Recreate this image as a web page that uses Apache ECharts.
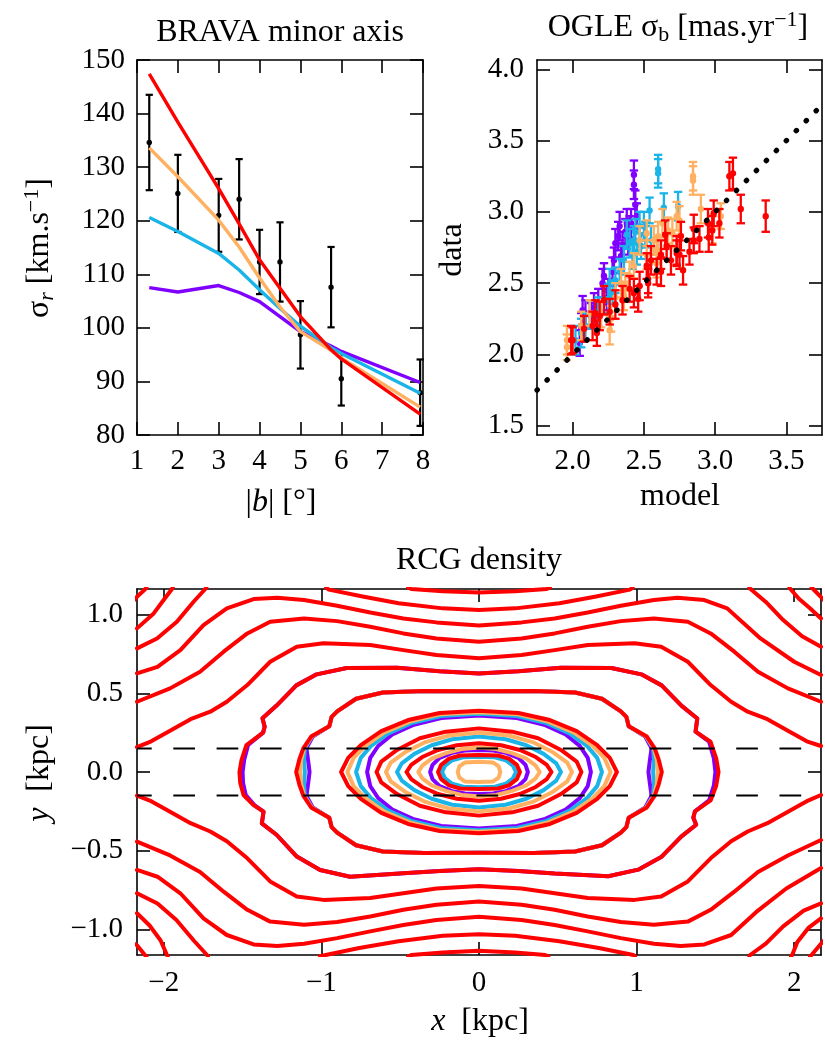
<!DOCTYPE html>
<html>
<head>
<meta charset="utf-8">
<script src="https://cdn.jsdelivr.net/npm/echarts@6/dist/echarts.min.js"></script>
<style>
html,body{margin:0;padding:0;background:#fff;}
#chart{width:825px;height:1045px;}
</style>
</head>
<body>
<div id="chart"></div>
<script>
// ---------- BRAVA minor axis: velocity dispersion vs |b| ----------
const bravaAbsB = [1.3, 2, 3, 3.5, 4, 4.5, 5, 5.75, 6, 7.93];
const bravaSigma = [134.6, 125.1, 121.0, 124.0, 112.3, 112.3, 98.7, 107.6, 90.5, 87.9];
const bravaSigmaErr = [8.9, 7.2, 6.8, 7.5, 6.0, 7.4, 6.3, 7.5, 5.0, 6.2];
const modelAbsB = [1.3, 2, 3, 3.5, 4, 4.5, 5, 5.75, 6, 7.93];
const modelPurple = [107.5, 106.7, 107.9, 106.6, 104.9, 102.1, 99.3, 96.6, 95.6, 89.8];
const modelCyan = [120.6, 118.0, 113.9, 110.8, 107.1, 103.6, 100.3, 96.3, 95.2, 87.8];
const modelOrange = [133.6, 128.2, 120.1, 115.1, 109.3, 103.9, 99.3, 95.8, 94.4, 85.2];
const modelRed = [147.4, 138.4, 126.0, 119.4, 112.7, 107.4, 102.1, 95.9, 94.2, 83.9];

// ---------- OGLE proper-motion dispersion: model vs data ----------
const oglePurpleModel = [2.43, 2.43, 2.44, 2.45, 2.41, 2.32, 2.37, 2.39, 2.34, 2.35, 2.29, 2.21, 2.25, 2.24, 2.28, 2.13, 2.18, 2.07, 2.09, 2.05, 2.06, 2.33, 2.40, 2.30, 2.38, 2.22, 2.15];
const oglePurpleData  = [3.26, 3.19, 3.05, 2.97, 2.92, 2.83, 2.86, 2.80, 2.69, 2.76, 2.66, 2.50, 2.44, 2.40, 2.58, 2.27, 2.36, 2.31, 2.29, 2.08, 2.19, 2.90, 2.88, 2.78, 2.92, 2.55, 2.33];
const oglePurpleErr   = [0.10, 0.10, 0.10, 0.09, 0.10, 0.10, 0.09, 0.10, 0.09, 0.10, 0.09, 0.10, 0.09, 0.09, 0.10, 0.09, 0.10, 0.10, 0.09, 0.09, 0.10, 0.10, 0.09, 0.10, 0.10, 0.09, 0.10];
const ogleCyanModel = [2.60, 2.60, 2.64, 2.54, 2.74, 2.47, 2.51, 2.40, 2.45, 2.43, 2.48, 2.36, 2.33, 2.26, 2.28, 2.25, 2.12, 2.09, 2.06, 2.02, 2.38, 2.44, 2.50, 2.42, 2.30, 2.18, 2.55];
const ogleCyanData  = [3.30, 3.27, 3.03, 3.01, 3.04, 2.90, 2.84, 2.78, 2.72, 2.80, 2.76, 2.66, 2.58, 2.50, 2.43, 2.39, 2.28, 2.20, 2.15, 2.10, 2.84, 2.86, 2.90, 2.70, 2.52, 2.30, 2.80];
const ogleCyanErr   = [0.10, 0.10, 0.10, 0.09, 0.10, 0.10, 0.09, 0.10, 0.09, 0.10, 0.09, 0.10, 0.09, 0.10, 0.09, 0.10, 0.10, 0.09, 0.10, 0.10, 0.10, 0.09, 0.10, 0.10, 0.09, 0.10, 0.10];
const ogleOrangeModel = [2.845, 2.845, 2.90, 2.73, 3.04, 2.75, 2.67, 2.60, 2.66, 2.57, 2.59, 2.59, 2.52, 2.43, 2.34, 2.37, 2.36, 2.27, 2.26, 2.12, 2.06, 1.96, 1.96, 2.98, 2.47, 2.52, 2.40, 2.30, 2.20, 2.63, 2.70];
const ogleOrangeData  = [3.25, 3.22, 3.02, 2.97, 2.97, 2.94, 2.87, 2.83, 2.76, 2.80, 2.73, 2.64, 2.70, 2.62, 2.50, 2.48, 2.41, 2.25, 2.17, 2.29, 2.20, 2.10, 2.05, 2.88, 2.80, 2.85, 2.55, 2.40, 2.28, 2.92, 2.85];
const ogleOrangeErr   = [0.10, 0.10, 0.10, 0.10, 0.09, 0.10, 0.09, 0.10, 0.09, 0.10, 0.09, 0.10, 0.10, 0.09, 0.10, 0.09, 0.10, 0.09, 0.10, 0.09, 0.10, 0.10, 0.09, 0.10, 0.10, 0.09, 0.10, 0.10, 0.09, 0.10, 0.10];
const ogleRedModel = [3.10, 3.125, 3.18, 3.355, 3.03, 2.99, 2.98, 2.955, 2.89, 2.85, 2.82, 2.775, 2.75, 2.73, 2.69, 2.66, 2.62, 2.65, 2.59, 2.53, 2.52, 2.53, 2.47, 2.46, 2.43, 2.26, 2.19, 2.16, 2.14, 2.17, 1.99, 2.00, 2.76, 2.73, 2.55, 2.40, 2.35, 2.30, 2.08, 2.22, 2.62, 2.85, 2.95];
const ogleRedData  = [3.25, 3.27, 3.02, 2.97, 2.92, 2.99, 2.87, 2.82, 2.81, 2.88, 2.72, 2.59, 2.70, 2.71, 2.66, 2.76, 2.58, 2.84, 2.58, 2.53, 2.62, 2.50, 2.48, 2.39, 2.43, 2.30, 2.27, 2.29, 2.20, 2.15, 2.10, 2.10, 2.83, 2.73, 2.66, 2.46, 2.38, 2.35, 2.18, 2.38, 2.70, 2.80, 2.92];
const ogleRedErr   = [0.10, 0.11, 0.10, 0.11, 0.10, 0.09, 0.10, 0.10, 0.09, 0.10, 0.09, 0.10, 0.10, 0.09, 0.10, 0.09, 0.10, 0.10, 0.09, 0.10, 0.09, 0.10, 0.10, 0.09, 0.10, 0.09, 0.10, 0.09, 0.10, 0.09, 0.10, 0.09, 0.10, 0.10, 0.10, 0.09, 0.10, 0.10, 0.09, 0.10, 0.10, 0.09, 0.10];
const oneToOne = [[1.75, 1.75], [3.75, 3.75]];

// ---------- RCG density contours (x, y in kpc) ----------
// open red contours crossing the panel
const rcgArc0Upper = [[-0.45,1.17],[-0.43,1.162],[-0.23,1.148],[0,1.14],[0.23,1.148],[0.43,1.162],[0.45,1.17]];
const rcgArc0Lower = [[-0.45,-1.17],[-0.43,-1.162],[-0.23,-1.146],[0,-1.135],[0.23,-1.146],[0.42,-1.162],[0.44,-1.17]];
const rcgArc1Upper = [[-0.97,1.17],[-0.953,1.158],[-0.73,1.113],[-0.51,1.071],[-0.23,1.039],[0,1.029],[0.23,1.039],[0.51,1.071],[0.735,1.113],[0.957,1.158],[0.975,1.17]];
const rcgArc1Lower = [[-1.01,-1.17],[-0.998,-1.162],[-0.76,-1.118],[-0.51,-1.075],[-0.23,-1.04],[0,-1.03],[0.23,-1.04],[0.51,-1.075],[0.76,-1.118],[0.98,-1.162],[0.99,-1.17]];
const rcgArc2Upper = [[-2.17,0.626],[-2.04,0.668],[-1.895,0.774],[-1.748,0.933],[-1.60,1.039],[-1.43,1.098],[-1.28,1.107],[-1.11,1.092],[-0.90,1.056],[-0.69,1.013],[-0.48,0.975],[-0.27,0.950],[0,0.930],[0.27,0.950],[0.48,0.975],[0.69,1.013],[0.90,1.056],[1.11,1.092],[1.26,1.107],[1.43,1.092],[1.575,1.039],[1.786,0.848],[2.0,0.70],[2.17,0.616]];
const rcgArc2Lower = [[-2.17,-0.622],[-2.04,-0.665],[-1.895,-0.77],[-1.748,-0.93],[-1.60,-1.035],[-1.43,-1.095],[-1.28,-1.105],[-1.11,-1.09],[-0.90,-1.055],[-0.69,-1.012],[-0.48,-0.972],[-0.27,-0.94],[0,-0.919],[0.27,-0.94],[0.48,-0.972],[0.69,-1.012],[0.90,-1.055],[1.11,-1.09],[1.28,-1.105],[1.43,-1.095],[1.60,-1.035],[1.77,-0.88],[1.95,-0.74],[2.17,-0.61]];
const rcgArc3Upper = [[-2.17,0.446],[-1.96,0.531],[-1.77,0.637],[-1.62,0.764],[-1.47,0.880],[-1.325,0.954],[-1.11,0.975],[-0.90,0.958],[-0.69,0.922],[-0.48,0.880],[-0.27,0.848],[0,0.827],[0.27,0.848],[0.48,0.880],[0.69,0.922],[0.90,0.958],[1.11,0.975],[1.325,0.954],[1.47,0.880],[1.62,0.764],[1.77,0.637],[1.96,0.531],[2.17,0.446]];
const rcgArc3Lower = [[-2.17,-0.442],[-1.96,-0.53],[-1.77,-0.635],[-1.62,-0.76],[-1.47,-0.875],[-1.325,-0.95],[-1.11,-0.97],[-0.90,-0.953],[-0.69,-0.917],[-0.48,-0.875],[-0.27,-0.843],[0,-0.823],[0.27,-0.843],[0.48,-0.875],[0.69,-0.917],[0.90,-0.953],[1.11,-0.97],[1.325,-0.95],[1.47,-0.875],[1.62,-0.76],[1.77,-0.635],[1.96,-0.53],[2.17,-0.432]];
const rcgArc4Upper = [[-2.17,0.158],[-2.08,0.195],[-2.00,0.24],[-1.83,0.335],[-1.705,0.383],[-1.60,0.446],[-1.47,0.552],[-1.325,0.700],[-1.156,0.795],[-0.987,0.817],[-0.69,0.806],[-0.48,0.774],[-0.27,0.743],[0,0.722],[0.27,0.743],[0.48,0.774],[0.69,0.806],[0.987,0.817],[1.156,0.795],[1.325,0.700],[1.47,0.552],[1.60,0.446],[1.705,0.383],[1.83,0.335],[2.00,0.24],[2.08,0.195],[2.17,0.165]];
const rcgArc4Lower = [[-2.17,-0.15],[-2.08,-0.185],[-2.00,-0.23],[-1.83,-0.325],[-1.705,-0.378],[-1.60,-0.44],[-1.47,-0.548],[-1.325,-0.695],[-1.156,-0.79],[-0.987,-0.812],[-0.69,-0.80],[-0.48,-0.77],[-0.27,-0.74],[0,-0.724],[0.27,-0.74],[0.48,-0.77],[0.69,-0.80],[0.987,-0.812],[1.156,-0.79],[1.325,-0.695],[1.47,-0.548],[1.60,-0.44],[1.705,-0.378],[1.83,-0.325],[2.00,-0.23],[2.08,-0.185],[2.17,-0.146]];
// corner contours
const rcgCornerUL0 = [[-2.19,1.09],[-2.17,1.113],[-2.117,1.162],[-2.11,1.17]];
const rcgCornerUL1 = [[-2.17,0.912],[-2.064,1.007],[-2.001,1.092],[-1.948,1.162],[-1.943,1.17]];
const rcgCornerUL2 = [[-2.17,0.785],[-2.043,0.848],[-1.917,0.954],[-1.811,1.081],[-1.737,1.162],[-1.73,1.17]];
const rcgCornerUR0 = [[2.19,1.09],[2.17,1.11],[2.12,1.162],[2.11,1.17]];
const rcgCornerUR1 = [[2.17,0.975],[2.10,1.04],[2.03,1.10],[1.976,1.162],[1.97,1.17]];
const rcgCornerUR2 = [[2.17,0.795],[2.05,0.862],[1.93,0.965],[1.82,1.08],[1.723,1.162],[1.715,1.17]];
const rcgCornerLL0 = [[-2.19,-1.09],[-2.17,-1.10],[-2.12,-1.162],[-2.11,-1.17]];
const rcgCornerLL1 = [[-2.17,-0.897],[-2.09,-0.975],[-2.02,-1.07],[-1.98,-1.162],[-1.975,-1.17]];
const rcgCornerLL2 = [[-2.17,-0.77],[-2.04,-0.835],[-1.92,-0.94],[-1.81,-1.07],[-1.726,-1.162],[-1.72,-1.17]];
const rcgCornerLR0 = [[2.19,-1.07],[2.17,-1.09],[2.11,-1.162],[2.10,-1.17]];
const rcgCornerLR1 = [[2.17,-0.93],[2.09,-0.99],[2.02,-1.08],[1.987,-1.162],[1.98,-1.17]];
const rcgCornerLR2 = [[2.17,-0.834],[2.06,-0.88],[1.93,-0.98],[1.82,-1.09],[1.72,-1.162],[1.715,-1.17]];
// closed contours
const ringRedF1 = [[-1.52,0],[-1.507,0.076],[-1.476,0.171],[-1.37,0.25],[-1.36,0.288],[-1.374,0.341],[-1.286,0.42],[-1.159,0.55],[-1.03,0.62],[-0.84,0.66],[-0.52,0.662],[-0.25,0.64],[0,0.626],[0.25,0.64],[0.52,0.662],[0.84,0.66],[1.03,0.62],[1.159,0.55],[1.286,0.42],[1.385,0.34],[1.374,0.256],[1.469,0.192],[1.505,0.087],[1.52,0],[1.505,-0.087],[1.47,-0.18],[1.37,-0.25],[1.36,-0.29],[1.378,-0.335],[1.283,-0.41],[1.156,-0.54],[1.01,-0.62],[0.82,-0.662],[0.48,-0.645],[0.25,-0.628],[0,-0.618],[-0.25,-0.628],[-0.48,-0.643],[-0.818,-0.665],[-1.008,-0.622],[-1.156,-0.537],[-1.283,-0.40],[-1.378,-0.326],[-1.367,-0.252],[-1.431,-0.21],[-1.494,-0.146],[-1.515,-0.07],[-1.52,0]];
const ringPurpleF1 = [[-1.50,0],[-1.49,0.076],[-1.465,0.171],[-1.37,0.25],[-1.36,0.288],[-1.374,0.341],[-1.286,0.42],[-1.159,0.55],[-1.03,0.62],[-0.84,0.66],[-0.52,0.662],[-0.25,0.64],[0,0.626],[0.25,0.64],[0.52,0.662],[0.84,0.66],[1.03,0.62],[1.159,0.55],[1.286,0.42],[1.385,0.34],[1.374,0.256],[1.46,0.192],[1.49,0.087],[1.50,0],[1.49,-0.087],[1.46,-0.18],[1.37,-0.25],[1.36,-0.29],[1.378,-0.335],[1.283,-0.41],[1.156,-0.54],[1.01,-0.62],[0.82,-0.662],[0.48,-0.645],[0.25,-0.628],[0,-0.618],[-0.25,-0.628],[-0.48,-0.643],[-0.818,-0.665],[-1.008,-0.622],[-1.156,-0.537],[-1.283,-0.40],[-1.378,-0.326],[-1.367,-0.252],[-1.425,-0.21],[-1.48,-0.146],[-1.497,-0.07],[-1.50,0]];
const ringRedF2 = [[-1.16,0],[-1.14,0.08],[-1.115,0.15],[-1.065,0.225],[-0.95,0.29],[-0.935,0.35],[-0.90,0.385],[-0.78,0.465],[-0.61,0.505],[-0.35,0.515],[0,0.512],[0.35,0.515],[0.61,0.505],[0.78,0.465],[0.90,0.385],[0.935,0.35],[0.95,0.29],[1.065,0.225],[1.115,0.15],[1.14,0.08],[1.16,0],[1.14,-0.08],[1.115,-0.15],[1.065,-0.225],[0.95,-0.29],[0.935,-0.35],[0.90,-0.385],[0.78,-0.465],[0.61,-0.505],[0.35,-0.515],[0,-0.512],[-0.35,-0.515],[-0.61,-0.505],[-0.78,-0.465],[-0.90,-0.385],[-0.935,-0.35],[-0.95,-0.29],[-1.065,-0.225],[-1.115,-0.15],[-1.14,-0.08],[-1.16,0]];
const ringOrangeF2 = [[-1.135,0],[-1.128,0.08],[-1.11,0.15],[-1.062,0.225],[-0.95,0.29],[-0.935,0.35],[-0.90,0.385],[-0.78,0.465],[-0.61,0.505],[-0.35,0.515],[0,0.512],[0.35,0.515],[0.61,0.505],[0.78,0.465],[0.90,0.385],[0.935,0.35],[0.95,0.29],[1.062,0.225],[1.11,0.15],[1.128,0.08],[1.135,0],[1.128,-0.08],[1.11,-0.15],[1.062,-0.225],[0.95,-0.29],[0.935,-0.35],[0.90,-0.385],[0.78,-0.465],[0.61,-0.505],[0.35,-0.515],[0,-0.512],[-0.35,-0.515],[-0.61,-0.505],[-0.78,-0.465],[-0.90,-0.385],[-0.935,-0.35],[-0.95,-0.29],[-1.062,-0.225],[-1.11,-0.15],[-1.128,-0.08],[-1.135,0]];
const ringCyanF2 = [[-1.105,0],[-1.11,0.08],[-1.105,0.15],[-1.06,0.225],[-0.95,0.29],[-0.935,0.35],[-0.90,0.385],[-0.78,0.465],[-0.61,0.505],[-0.35,0.515],[0,0.512],[0.35,0.515],[0.61,0.505],[0.78,0.465],[0.90,0.385],[0.935,0.35],[0.95,0.29],[1.06,0.225],[1.105,0.15],[1.11,0.08],[1.105,0],[1.11,-0.08],[1.105,-0.15],[1.06,-0.225],[0.95,-0.29],[0.935,-0.35],[0.90,-0.385],[0.78,-0.465],[0.61,-0.505],[0.35,-0.515],[0,-0.512],[-0.35,-0.515],[-0.61,-0.505],[-0.78,-0.465],[-0.90,-0.385],[-0.935,-0.35],[-0.95,-0.29],[-1.06,-0.225],[-1.105,-0.15],[-1.11,-0.08],[-1.105,0]];
const ringPurpleF2 = [[-1.075,0],[-1.085,0.08],[-1.095,0.15],[-1.055,0.225],[-0.95,0.29],[-0.935,0.35],[-0.90,0.385],[-0.78,0.465],[-0.61,0.505],[-0.35,0.515],[0,0.512],[0.35,0.515],[0.61,0.505],[0.78,0.465],[0.90,0.385],[0.935,0.35],[0.95,0.29],[1.055,0.225],[1.095,0.15],[1.085,0.08],[1.075,0],[1.085,-0.08],[1.095,-0.15],[1.055,-0.225],[0.95,-0.29],[0.935,-0.35],[0.90,-0.385],[0.78,-0.465],[0.61,-0.505],[0.35,-0.515],[0,-0.512],[-0.35,-0.515],[-0.61,-0.505],[-0.78,-0.465],[-0.90,-0.385],[-0.935,-0.35],[-0.95,-0.29],[-1.055,-0.225],[-1.095,-0.15],[-1.085,-0.08],[-1.075,0]];
const ringRedG = [[-0.875,0],[-0.83,0.09],[-0.75,0.17],[-0.62,0.26],[-0.45,0.33],[-0.25,0.375],[0,0.389],[0.25,0.375],[0.45,0.33],[0.62,0.26],[0.75,0.17],[0.83,0.09],[0.875,0],[0.83,-0.09],[0.75,-0.17],[0.62,-0.26],[0.45,-0.33],[0.25,-0.375],[0,-0.389],[-0.25,-0.375],[-0.45,-0.33],[-0.62,-0.26],[-0.75,-0.17],[-0.83,-0.09],[-0.875,0]];
const ringOrangeG = [[-0.835,0],[-0.795,0.09],[-0.72,0.168],[-0.60,0.252],[-0.44,0.32],[-0.25,0.366],[0,0.380],[0.25,0.366],[0.44,0.32],[0.60,0.252],[0.72,0.168],[0.795,0.09],[0.835,0],[0.795,-0.09],[0.72,-0.168],[0.60,-0.252],[0.44,-0.32],[0.25,-0.366],[0,-0.380],[-0.25,-0.366],[-0.44,-0.32],[-0.60,-0.252],[-0.72,-0.168],[-0.795,-0.09],[-0.835,0]];
const ringCyanG = [[-0.78,0],[-0.75,0.09],[-0.685,0.166],[-0.575,0.245],[-0.43,0.31],[-0.24,0.356],[0,0.370],[0.24,0.356],[0.43,0.31],[0.575,0.245],[0.685,0.166],[0.75,0.09],[0.78,0],[0.75,-0.09],[0.685,-0.166],[0.575,-0.245],[0.43,-0.31],[0.24,-0.356],[0,-0.370],[-0.24,-0.356],[-0.43,-0.31],[-0.575,-0.245],[-0.685,-0.166],[-0.75,-0.09],[-0.78,0]];
const ringPurpleG = [[-0.71,0],[-0.69,0.09],[-0.64,0.165],[-0.55,0.238],[-0.42,0.298],[-0.24,0.343],[0,0.358],[0.24,0.343],[0.42,0.298],[0.55,0.238],[0.64,0.165],[0.69,0.09],[0.71,0],[0.69,-0.09],[0.64,-0.165],[0.55,-0.238],[0.42,-0.298],[0.24,-0.343],[0,-0.358],[-0.24,-0.343],[-0.42,-0.298],[-0.55,-0.238],[-0.64,-0.165],[-0.69,-0.09],[-0.71,0]];
const ringRedL2 = [[-0.65,0],[-0.62,0.066],[-0.52,0.14],[-0.375,0.214],[-0.21,0.256],[0,0.277],[0.21,0.256],[0.375,0.214],[0.52,0.14],[0.62,0.066],[0.65,0],[0.62,-0.066],[0.52,-0.14],[0.375,-0.214],[0.21,-0.256],[0,-0.277],[-0.21,-0.256],[-0.375,-0.214],[-0.52,-0.14],[-0.62,-0.066],[-0.65,0]];
const ringOrangeL2 = [[-0.59,0],[-0.56,0.06],[-0.47,0.125],[-0.34,0.19],[-0.19,0.232],[0,0.25],[0.19,0.232],[0.34,0.19],[0.47,0.125],[0.56,0.06],[0.59,0],[0.56,-0.06],[0.47,-0.125],[0.34,-0.19],[0.19,-0.232],[0,-0.25],[-0.19,-0.232],[-0.34,-0.19],[-0.47,-0.125],[-0.56,-0.06],[-0.59,0]];
const ringCyanL2 = [[-0.52,0],[-0.49,0.055],[-0.41,0.115],[-0.30,0.17],[-0.17,0.208],[0,0.225],[0.17,0.208],[0.30,0.17],[0.41,0.115],[0.49,0.055],[0.52,0],[0.49,-0.055],[0.41,-0.115],[0.30,-0.17],[0.17,-0.208],[0,-0.225],[-0.17,-0.208],[-0.30,-0.17],[-0.41,-0.115],[-0.49,-0.055],[-0.52,0]];
const ringRedL3 = [[-0.46,0],[-0.43,0.045],[-0.36,0.095],[-0.26,0.14],[-0.14,0.17],[0,0.182],[0.14,0.17],[0.26,0.14],[0.36,0.095],[0.43,0.045],[0.46,0],[0.43,-0.045],[0.36,-0.095],[0.26,-0.14],[0.14,-0.17],[0,-0.182],[-0.14,-0.17],[-0.26,-0.14],[-0.36,-0.095],[-0.43,-0.045],[-0.46,0]];
const ringOrangeL3 = [[-0.385,0],[-0.36,0.04],[-0.30,0.085],[-0.21,0.12],[-0.11,0.146],[0,0.156],[0.11,0.146],[0.21,0.12],[0.30,0.085],[0.36,0.04],[0.385,0],[0.36,-0.04],[0.30,-0.085],[0.21,-0.12],[0.11,-0.146],[0,-0.156],[-0.11,-0.146],[-0.21,-0.12],[-0.30,-0.085],[-0.36,-0.04],[-0.385,0]];
const ringPurpleL2 = [[-0.31,0],[-0.295,0.045],[-0.25,0.09],[-0.17,0.122],[-0.09,0.136],[0,0.14],[0.09,0.136],[0.17,0.122],[0.25,0.09],[0.295,0.045],[0.31,0],[0.295,-0.045],[0.25,-0.09],[0.17,-0.122],[0.09,-0.136],[0,-0.14],[-0.09,-0.136],[-0.17,-0.122],[-0.25,-0.09],[-0.295,-0.045],[-0.31,0]];
const ringRedL4 = [[-0.26,0],[-0.24,0.045],[-0.19,0.085],[-0.12,0.105],[0,0.108],[0.12,0.105],[0.19,0.085],[0.24,0.045],[0.26,0],[0.24,-0.045],[0.19,-0.085],[0.12,-0.105],[0,-0.108],[-0.12,-0.105],[-0.19,-0.085],[-0.24,-0.045],[-0.26,0]];
const ringCyanL3 = [[-0.235,0],[-0.215,0.04],[-0.17,0.075],[-0.10,0.093],[0,0.097],[0.10,0.093],[0.17,0.075],[0.215,0.04],[0.235,0],[0.215,-0.04],[0.17,-0.075],[0.10,-0.093],[0,-0.097],[-0.10,-0.093],[-0.17,-0.075],[-0.215,-0.04],[-0.235,0]];
const ringOrangeL4 = [[-0.135,0],[-0.125,0.035],[-0.09,0.06],[0,0.065],[0.09,0.06],[0.125,0.035],[0.135,0],[0.125,-0.035],[0.09,-0.06],[0,-0.063],[-0.09,-0.06],[-0.125,-0.035],[-0.135,0]];
// slice limits |y| = 0.15 kpc
const sliceUpper = [[-2.17, 0.15], [2.17, 0.15]];
const sliceLower = [[-2.17, -0.15], [2.17, -0.15]];

// tick values
const ogleTicksX = [2.0, 2.5, 3.0, 3.5];
const ogleTicksY = [1.5, 2.0, 2.5, 3.0, 3.5, 4.0];
const rcgTicksX = [-2, -1, 0, 1, 2];
const rcgTicksY = [-1.0, -0.5, 0.0, 0.5, 1.0];

// ---------- styling ----------
const FONT = 'Liberation Serif';
const FS = 29;      // tick labels
const FT = 32;      // titles and axis names
const PURPLE = '#8000ff', CYAN = '#1ab4e8', ORANGE = '#ffb060', RED = '#ff0000';
const minusSign = s => String(s).replace('-', '\u2212');

function axis(grid, pos, min, max, opts) {
  const o = opts || {};
  const labelled = pos === 'bottom' || pos === 'left';
  const a = {
    type: 'value', gridIndex: grid, position: pos, min, max,
    axisLine: { show: true, onZero: false, lineStyle: { color: '#000', width: 1.6 } },
    axisTick: { show: true, inside: true, length: 13, lineStyle: { color: '#000', width: 1.6 } },
    splitLine: { show: false },
    axisLabel: {
      show: labelled, color: '#000', fontFamily: FONT, fontSize: FS,
      margin: o.margin || 12, formatter: o.formatter
    }
  };
  if (o.interval) a.interval = o.interval;
  if (o.ticks) {
    a.axisTick.customValues = o.ticks;
    a.axisLabel.customValues = o.ticks;
  }
  return a;
}

function errorBars(xi, yi, xs, ys, es, color, cap, r, lw) {
  return {
    type: 'custom', xAxisIndex: xi, yAxisIndex: yi, silent: true, animation: false,
    data: xs.map((x, i) => [x, ys[i], es[i]]),
    encode: { x: 0, y: 1 },
    renderItem: (params, api) => {
      const x = api.value(0), y = api.value(1), e = api.value(2);
      const hi = api.coord([x, y + e]), lo = api.coord([x, y - e]), c = api.coord([x, y]);
      const st = { stroke: color, lineWidth: lw };
      return {
        type: 'group', children: [
          { type: 'line', shape: { x1: hi[0], y1: hi[1], x2: lo[0], y2: lo[1] }, style: st },
          { type: 'line', shape: { x1: hi[0] - cap, y1: hi[1], x2: hi[0] + cap, y2: hi[1] }, style: st },
          { type: 'line', shape: { x1: lo[0] - cap, y1: lo[1], x2: lo[0] + cap, y2: lo[1] }, style: st },
          { type: 'circle', shape: { cx: c[0], cy: c[1], r }, style: { fill: color } }
        ]
      };
    }
  };
}

function modelLine(xs, ys, color) {
  return {
    type: 'line', xAxisIndex: 0, yAxisIndex: 0, symbol: 'none', silent: true, animation: false,
    data: xs.map((x, i) => [x, ys[i]]),
    lineStyle: { color, width: 3.4, join: 'round' }
  };
}

function contour(path, color) {
  return {
    type: 'line', xAxisIndex: 4, yAxisIndex: 4, symbol: 'none', silent: true, animation: false,
    clip: true, data: path,
    lineStyle: { color, width: 4, join: 'round', cap: 'round' }
  };
}

const redOpen = [rcgArc0Upper, rcgArc0Lower, rcgArc1Upper, rcgArc1Lower, rcgArc2Upper, rcgArc2Lower,
  rcgArc3Upper, rcgArc3Lower, rcgArc4Upper, rcgArc4Lower,
  rcgCornerUL0, rcgCornerUL1, rcgCornerUL2, rcgCornerUR0, rcgCornerUR1, rcgCornerUR2,
  rcgCornerLL0, rcgCornerLL1, rcgCornerLL2, rcgCornerLR0, rcgCornerLR1, rcgCornerLR2];

const series = [
  // BRAVA
  errorBars(0, 0, bravaAbsB, bravaSigma, bravaSigmaErr, '#000', 3.6, 2.7, 2.2),
  modelLine(modelAbsB, modelPurple, PURPLE),
  modelLine(modelAbsB, modelCyan, CYAN),
  modelLine(modelAbsB, modelOrange, ORANGE),
  modelLine(modelAbsB, modelRed, RED),
  // OGLE
  errorBars(2, 2, oglePurpleModel, oglePurpleData, oglePurpleErr, PURPLE, 4.2, 3.2, 2.3),
  errorBars(2, 2, ogleCyanModel, ogleCyanData, ogleCyanErr, CYAN, 4.2, 3.2, 2.3),
  errorBars(2, 2, ogleOrangeModel, ogleOrangeData, ogleOrangeErr, ORANGE, 4.2, 3.2, 2.3),
  errorBars(2, 2, ogleRedModel, ogleRedData, ogleRedErr, RED, 4.2, 3.2, 2.3),
  {
    type: 'line', xAxisIndex: 2, yAxisIndex: 2, symbol: 'none', silent: true, animation: false,
    data: oneToOne,
    lineStyle: { color: '#000', width: 5.2, type: [0.5, 13.6], cap: 'round' }
  },
  // RCG density
  contour(ringPurpleF1, PURPLE), contour(ringPurpleF2, PURPLE), contour(ringPurpleG, PURPLE), contour(ringPurpleL2, PURPLE),
  contour(ringCyanF2, CYAN), contour(ringCyanG, CYAN), contour(ringCyanL2, CYAN), contour(ringCyanL3, CYAN),
  contour(ringOrangeF2, ORANGE), contour(ringOrangeG, ORANGE), contour(ringOrangeL2, ORANGE), contour(ringOrangeL3, ORANGE), contour(ringOrangeL4, ORANGE),
  ...redOpen.map(p => contour(p, RED)),
  contour(ringRedF1, RED), contour(ringRedF2, RED), contour(ringRedG, RED), contour(ringRedL2, RED), contour(ringRedL3, RED), contour(ringRedL4, RED),
  ...[sliceUpper, sliceLower].map(p => ({
    type: 'line', xAxisIndex: 4, yAxisIndex: 4, symbol: 'none', silent: true, animation: false, data: p,
    lineStyle: { color: '#000', width: 2, type: [21.7, 21.6], dashOffset: 7 }
  }))
];

const rich = {
  m: { fontFamily: FONT, fontSize: FT, color: '#000' },
  i: { fontFamily: FONT, fontSize: FT, fontStyle: 'italic', color: '#000' },
  s: { fontFamily: FONT, fontSize: 22, fontStyle: 'italic', color: '#000', padding: [14, 0, 0, 0] },
  su: { fontFamily: FONT, fontSize: 22, color: '#000', padding: [14, 0, 0, 0] },
  p: { fontFamily: FONT, fontSize: 22, color: '#000', padding: [0, 0, 16, 0] }
};
function label(x, y, text, rot) {
  return {
    type: 'text', x, y, rotation: rot ? Math.PI / 2 : 0, silent: true,
    style: { text, rich, align: 'center', verticalAlign: 'middle', fill: '#000', font: `${FT}px ${FONT}` }
  };
}

const option = {
  animation: false,
  backgroundColor: '#fff',
  grid: [
    { left: 137, top: 60, width: 286, height: 375 },
    { left: 537, top: 60, width: 285, height: 375 },
    { left: 137, top: 589, width: 684, height: 366 }
  ],
  xAxis: [
    axis(0, 'bottom', 1, 8, { interval: 1, margin: 12 }),
    axis(0, 'top', 1, 8, { interval: 1 }),
    axis(1, 'bottom', 1.75, 3.75, { ticks: ogleTicksX, margin: 12, formatter: v => Number(v).toFixed(1) }),
    axis(1, 'top', 1.75, 3.75, { ticks: ogleTicksX }),
    axis(2, 'bottom', -2.17, 2.17, { ticks: rcgTicksX, margin: 14, formatter: v => minusSign(v) }),
    axis(2, 'top', -2.17, 2.17, { ticks: rcgTicksX })
  ],
  yAxis: [
    axis(0, 'left', 80, 150, { interval: 10, margin: 12 }),
    axis(0, 'right', 80, 150, { interval: 10 }),
    axis(1, 'left', 1.435, 4.065, { ticks: ogleTicksY, margin: 13, formatter: v => Number(v).toFixed(1) }),
    axis(1, 'right', 1.435, 4.065, { ticks: ogleTicksY }),
    axis(2, 'left', -1.162, 1.162, { ticks: rcgTicksY, margin: 14, formatter: v => minusSign(Number(v).toFixed(1)) }),
    axis(2, 'right', -1.162, 1.162, { ticks: rcgTicksY })
  ],
  series,
  graphic: [
    label(280, 33, '{m|BRAVA minor axis}'),
    label(678, 28, '{m|OGLE σ}{su|b}{m| [mas.yr}{p|\u22121}{m|]}'),
    label(479, 561, '{m|RCG density}'),
    label(40, 248, '{m|σ}{s|r}{m| [km.s}{p|\u22121}{m|]}', true),
    label(281, 503, '{m||}{i|b}{m|| [°]}'),
    label(453, 250, '{m|data}', true),
    label(680, 497, '{m|model}'),
    label(40, 773, '{i|y}{m|  [kpc]}', true),
    label(480, 1022, '{i|x}{m|  [kpc]}')
  ]
};

const chart = echarts.init(document.getElementById('chart'), null, { renderer: 'canvas' });
chart.setOption(option);
</script>
</body>
</html>
